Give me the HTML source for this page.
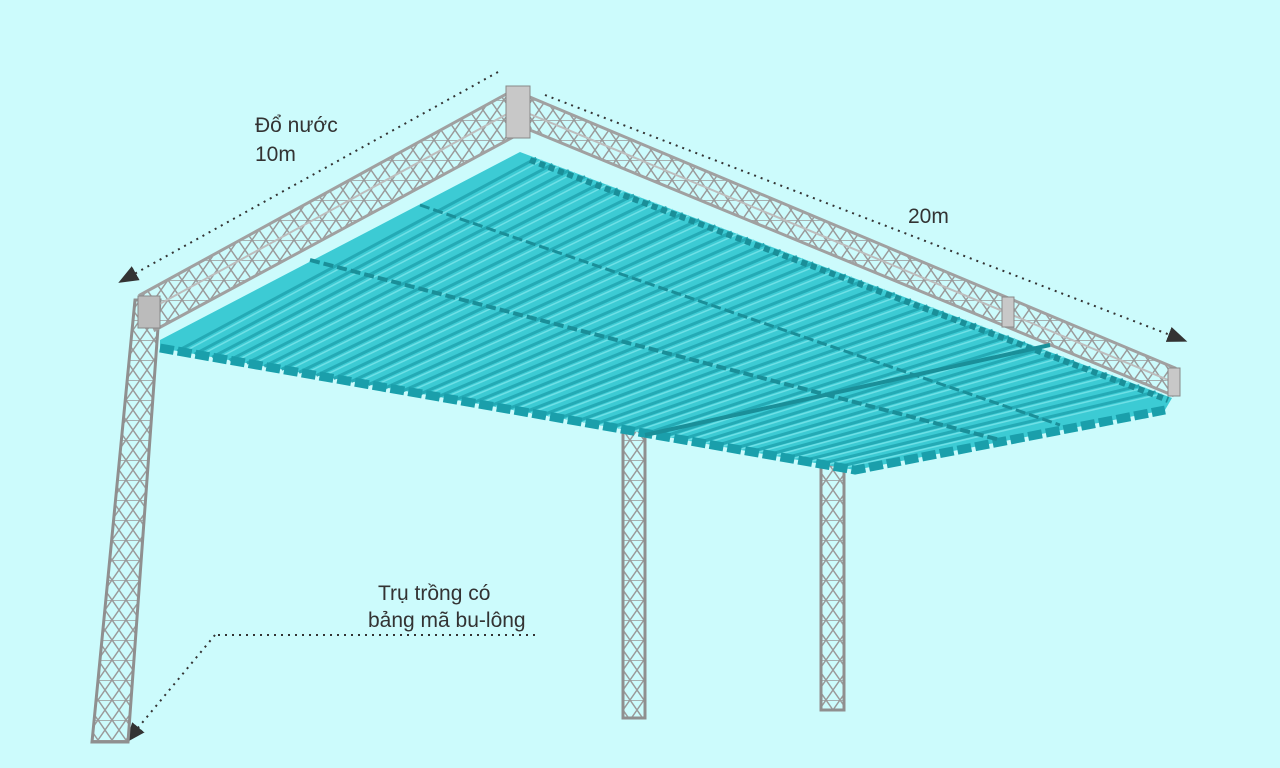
<!DOCTYPE html>
<html><head><meta charset="utf-8"><style>
html,body{margin:0;padding:0;background:#ccfbfc;}
svg{display:block}
text{font-family:"Liberation Sans",sans-serif;fill:#333;font-size:21px}
</style></head><body>
<svg width="1280" height="768" viewBox="0 0 1280 768">
<rect width="1280" height="768" fill="#ccfbfc"/>
<defs>
<marker id="ar" markerWidth="10" markerHeight="10" refX="5" refY="5" orient="auto"><path d="M0,1 L10,5 L0,9 Z" fill="#333"/></marker>
<pattern id="lat" width="14" height="20" patternUnits="userSpaceOnUse">
<path d="M0,0 L14,20 M14,0 L0,20 M0,0 H14" stroke="#9a9a9a" stroke-width="1.5" fill="none"/>
</pattern>
</defs>
<line x1="498" y1="72" x2="127" y2="278" stroke="#333" stroke-width="2" stroke-dasharray="2,5" marker-end="url(#ar)"/>
<line x1="545" y1="95" x2="1178" y2="338" stroke="#333" stroke-width="2" stroke-dasharray="2,5" marker-end="url(#ar)"/>
<line x1="535" y1="635" x2="215" y2="635" stroke="#333" stroke-width="2" stroke-dasharray="2,5"/>
<line x1="215" y1="635" x2="132" y2="735" stroke="#333" stroke-width="2" stroke-dasharray="2,5" marker-end="url(#ar)"/>
<text x="255" y="132">Đổ nước</text>
<text x="255" y="161">10m</text>
<text x="908" y="223">20m</text>
<text x="378" y="600">Trụ trồng có</text>
<text x="368" y="627">bảng mã bu-lông</text>
<g stroke="#8f8f8f" stroke-width="3" fill="none">
<polygon points="135,300 160,300 128,742 92,742" fill="url(#lat)"/>
<rect x="623" y="430" width="22" height="288" fill="url(#lat)"/>
<rect x="821" y="465" width="23" height="245" fill="url(#lat)"/>
</g>
<polygon points="140,295 510,92 530,128 155,330" fill="url(#lat)" stroke="#a0a0a0" stroke-width="3"/>
<line x1="145" y1="312" x2="518" y2="108" stroke="#bdbdbd" stroke-width="2"/>
<polygon points="525,95 1175,368 1172,395 525,128" fill="url(#lat)" stroke="#a0a0a0" stroke-width="3"/>
<line x1="525" y1="112" x2="1173" y2="382" stroke="#bdbdbd" stroke-width="2"/>
<rect x="506" y="86" width="24" height="52" fill="#c8c8c8" stroke="#888"/>
<rect x="138" y="296" width="22" height="32" fill="#bbb" stroke="#888"/>
<rect x="1002" y="297" width="12" height="30" fill="#c8c8c8" stroke="#888"/>
<rect x="1168" y="368" width="12" height="28" fill="#c8c8c8" stroke="#888"/>
<polygon points="160,340 520,152 1172,398 1165,410 855,470 160,348" fill="#3ccbd4"/>
<g id="st" stroke-width="3" fill="none"></g>
<polyline points="160,348 855,470 1165,410" stroke="#1a9fab" stroke-width="9" fill="none" stroke-dasharray="14,4"/>
<line x1="310" y1="260" x2="1000" y2="440" stroke="#1a8f99" stroke-width="4" stroke-dasharray="10,4"/>
<line x1="420" y1="205" x2="1060" y2="425" stroke="#1a8f99" stroke-width="3" stroke-dasharray="10,4"/>
<line x1="645" y1="435" x2="1050" y2="345" stroke="#1a8f99" stroke-width="4"/>
<line x1="530" y1="160" x2="1168" y2="400" stroke="#1a8f99" stroke-width="6" stroke-dasharray="6,4"/>
</svg>
<script>
var g=document.getElementById('st'),s='';
for(var i=1;i<40;i++){var t=i/40;
var fx=160+(855-160)*t,fy=348+(470-348)*t,bx=520+(1172-520)*t,by=152+(398-152)*t;
s+='<line stroke="#24aab5" x1="'+fx+'" y1="'+fy+'" x2="'+bx+'" y2="'+by+'"/>';
s+='<line stroke="#6ee0e6" stroke-width="1.5" x1="'+(fx+6)+'" y1="'+(fy+1)+'" x2="'+(bx+6)+'" y2="'+(by+2)+'"/>';}
g.innerHTML=s;
</script>
</body></html>
